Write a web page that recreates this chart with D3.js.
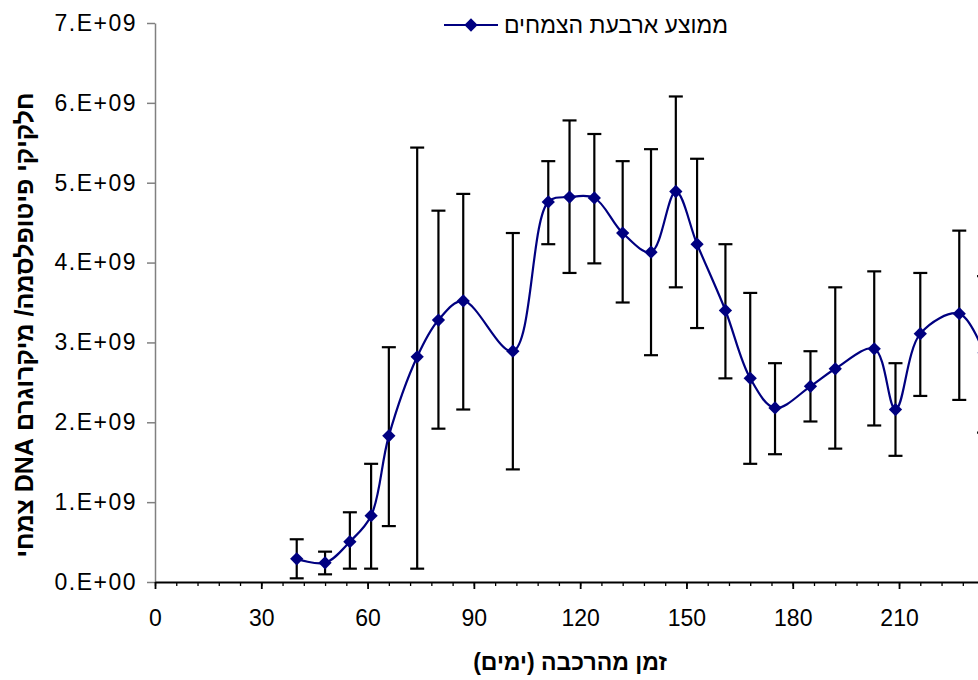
<!DOCTYPE html>
<html>
<head>
<meta charset="utf-8">
<script src="https://cdn.jsdelivr.net/npm/d3@7"></script>
<style>
  body { margin: 0; background: #fff; }
  svg { display: block; font-family: "Liberation Sans", Arial, sans-serif; }
</style>
</head>
<body>
<div id="vis"></div>
<script>
// data (values in particles per microgram plant DNA)
const DAYS = [40, 48, 55, 61, 66, 74, 80, 87, 101, 111, 117, 124, 132, 140, 147, 153, 161, 168, 175, 185, 192, 203, 209, 216, 227, 234];
const MEANS = [0.29, 0.24, 0.505, 0.83, 1.83, 2.82, 3.28, 3.52, 2.89, 4.76, 4.82, 4.81, 4.37, 4.13, 4.89, 4.23, 3.40, 2.55, 2.18, 2.45, 2.67, 2.92, 2.16, 3.11, 3.36, 2.87].map(v => v * 1e9);
const ERR_HIGH = [0.535, 0.38, 0.873, 1.48, 2.94, 5.44, 4.65, 4.86, 4.37, 5.27, 5.78, 5.61, 5.27, 5.42, 6.08, 5.30, 4.23, 3.62, 2.74, 2.89, 3.69, 3.89, 2.74, 3.87, 4.40, 3.83].map(v => v * 1e9);
const ERR_LOW = [0.046, 0.096, 0.167, 0.167, 0.70, 0.167, 1.92, 2.16, 1.41, 4.23, 3.87, 3.99, 3.50, 2.84, 3.69, 3.18, 2.55, 1.48, 1.60, 2.01, 1.67, 1.96, 1.58, 2.33, 2.28, 1.87].map(v => v * 1e9);

const X_TICKS = [0, 30, 60, 90, 120, 150, 180, 210];
const Y_TICKS = [0, 1e9, 2e9, 3e9, 4e9, 5e9, 6e9, 7e9];
const SERIES_NAME = "ממוצע ארבעת הצמחים";
const X_TITLE = "זמן מהרכבה (ימים)";
const Y_TITLE = "חלקיקי פיטופלסמה/ מיקרוגרם DNA צמחי";

const FRAME_WIDTH = 978;
const FRAME_HEIGHT = 680;
const LEFT = 155, BOTTOM = 582, TOP = 23;
const PX_PER_DAY = 3.543;

const data = DAYS.map((d, i) => ({day: d, mean: MEANS[i], hi: ERR_HIGH[i], lo: ERR_LOW[i]}));

const FRAME = d3.select("#vis")
  .append("svg")
    .attr("width", FRAME_WIDTH)
    .attr("height", FRAME_HEIGHT);

// the chart runs on past the right edge of the picture, so the domain goes to 240
const X_SCALE = d3.scaleLinear()
  .domain([0, 240])
  .range([LEFT, LEFT + 240 * PX_PER_DAY]);

const Y_SCALE = d3.scaleLinear()
  .domain([0, 7e9])
  .range([BOTTOM, TOP]);

// y axis (grey line)
const yAxis = FRAME.append("g")
  .attr("transform", "translate(" + LEFT + ",0)")
  .call(d3.axisLeft(Y_SCALE)
    .tickValues(Y_TICKS)
    .tickSize(8)
    .tickSizeOuter(0)
    .tickPadding(10)
    .tickFormat(d => (d / 1e9).toFixed(0) + ".E+" + (d === 0 ? "00" : "09")));
yAxis.selectAll("path, line").attr("stroke", "#808080").attr("stroke-width", 1.5);
yAxis.selectAll("text")
  .attr("font-size", "23px")
  .attr("letter-spacing", "1.5px")
  .attr("fill", "#000")
  .attr("font-family", "Liberation Sans, Arial, sans-serif");

// x axis minor ticks
const xMinor = FRAME.append("g")
  .attr("transform", "translate(0," + BOTTOM + ")")
  .call(d3.axisBottom(X_SCALE)
    .tickValues(d3.range(0, 241, 6))
    .tickSize(4)
    .tickSizeOuter(0)
    .tickFormat(""));
xMinor.select(".domain").remove();
xMinor.selectAll("line").attr("stroke", "#000").attr("stroke-width", 1.3);

// x axis major ticks
const xAxis = FRAME.append("g")
  .attr("transform", "translate(0," + BOTTOM + ")")
  .call(d3.axisBottom(X_SCALE)
    .tickValues(X_TICKS)
    .tickSize(7)
    .tickSizeOuter(0)
    .tickPadding(21));
xAxis.selectAll("path, line").attr("stroke", "#000").attr("stroke-width", 1.8);
xAxis.selectAll("text").attr("font-size", "23px").attr("fill", "#000").attr("font-family", "Liberation Sans, Arial, sans-serif");

// error bars
const CAP = 7;
const bars = FRAME.append("g").attr("stroke", "#000").attr("stroke-width", 2.2);
bars.selectAll(".stem")
  .data(data).enter().append("line")
    .attr("x1", d => X_SCALE(d.day)).attr("x2", d => X_SCALE(d.day))
    .attr("y1", d => Y_SCALE(d.hi)).attr("y2", d => Y_SCALE(d.lo));
bars.selectAll(".capHi")
  .data(data).enter().append("line")
    .attr("x1", d => X_SCALE(d.day) - CAP).attr("x2", d => X_SCALE(d.day) + CAP)
    .attr("y1", d => Y_SCALE(d.hi)).attr("y2", d => Y_SCALE(d.hi));
bars.selectAll(".capLo")
  .data(data).enter().append("line")
    .attr("x1", d => X_SCALE(d.day) - CAP).attr("x2", d => X_SCALE(d.day) + CAP)
    .attr("y1", d => Y_SCALE(d.lo)).attr("y2", d => Y_SCALE(d.lo));

// smoothed line
const line = d3.line()
  .x(d => X_SCALE(d.day))
  .y(d => Y_SCALE(d.mean))
  .curve(d3.curveCatmullRom.alpha(0.5));

FRAME.append("path")
  .datum(data)
  .attr("d", line)
  .attr("fill", "none")
  .attr("stroke", "#000080")
  .attr("stroke-width", 2.2);

// diamond markers
const diamond = d3.symbol().type(d3.symbolSquare).size(88);
FRAME.selectAll(".point")
  .data(data).enter().append("path")
    .attr("class", "point")
    .attr("d", diamond)
    .attr("transform", d => "translate(" + X_SCALE(d.day) + "," + Y_SCALE(d.mean) + ") rotate(45)")
    .attr("fill", "#000080");

// legend
FRAME.append("line")
  .attr("x1", 444).attr("x2", 498).attr("y1", 25).attr("y2", 25)
  .attr("stroke", "#000080").attr("stroke-width", 2.2);
FRAME.append("path")
  .attr("d", diamond)
  .attr("transform", "translate(471,25) rotate(45)")
  .attr("fill", "#000080");
FRAME.append("text")
  .attr("x", 728).attr("y", 33)
  .attr("direction", "rtl")
  .attr("text-anchor", "start")
  .attr("font-size", "23px")
  .text(SERIES_NAME);

// axis titles
FRAME.append("text")
  .attr("x", 570).attr("y", 670)
  .attr("direction", "rtl")
  .attr("text-anchor", "middle")
  .attr("font-size", "23px")
  .attr("font-weight", "bold")
  .text(X_TITLE);

FRAME.append("text")
  .attr("transform", "translate(33," + 325 + ") rotate(-90)")
  .attr("direction", "rtl")
  .attr("text-anchor", "middle")
  .attr("font-size", "25px")
  .attr("font-weight", "bold")
  .text(Y_TITLE);
</script>
</body>
</html>
